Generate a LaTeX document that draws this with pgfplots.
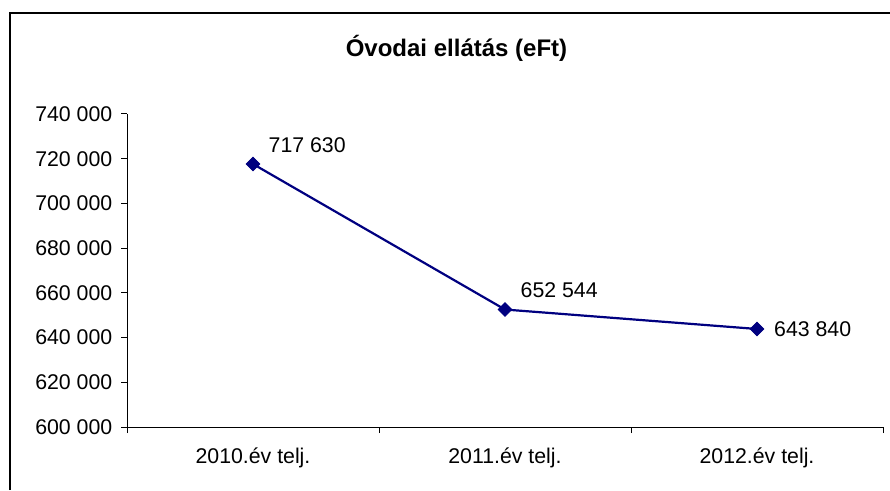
\documentclass[border=0pt]{standalone}
\usepackage{pgfplots}
\pgfplotsset{compat=1.18}
\usepackage{fontspec}
\setmainfont{Liberation Sans}
\definecolor{navyline}{RGB}{0,0,128}
\begin{document}
\begin{tikzpicture}[x=1pt,y=1pt]
\useasboundingbox (0,0) rectangle (890,490);
\draw[line width=1.2pt] (10,0) -- (10,477) -- (890,477);
\node[anchor=base,inner sep=0pt,font=\fontsize{24}{28}\selectfont\bfseries] at (456.5,433.3) {Óvodai ellátás (eFt)};
\begin{axis}[
  at={(127pt,63pt)}, anchor=south west,
  scale only axis, width=756pt, height=313pt,
  axis lines*=left,
  axis line style={line width=1pt},
  xmin=-0.5, xmax=2.5,
  ymin=600000, ymax=740000,
  xtick={0,1,2},
  xticklabels={2010.év telj.,2011.év telj.,2012.év telj.},
  minor xtick={-0.5,0.5,1.5,2.5},
  major x tick style={draw=none},
  ytick={600000,620000,640000,660000,680000,700000,720000,740000},
  tick align=outside,
  major tick length=6pt, minor tick length=6pt,
  tick style={black, line width=1pt},
  scaled y ticks=false,
  /pgf/number format/assume math mode=true,
  yticklabel={\pgfmathprintnumber[fixed,precision=0,1000 sep={\ }]{\tick}},
  tick label style={font=\fontsize{21.3}{25}\selectfont, inner sep=0pt},
  yticklabel style={anchor=east, xshift=-8.5pt},
  xticklabel style={anchor=north, yshift=-14.5pt},
  clip=false,
]
\addplot[navyline, line width=2.2pt, mark=square*, mark size=4.8pt,
  mark options={rotate=45, fill=navyline, draw=navyline, line width=0.8pt}]
  coordinates {(0,717630) (1,652544) (2,643840)};
\addplot[draw=none, mark=none, nodes near coords, point meta=explicit symbolic,
  every node near coord/.append style={anchor=west, inner sep=0pt, xshift=15.5pt, yshift=19pt, font=\fontsize{21.3}{25}\selectfont, black}]
  coordinates {(0,717630) [717 630] (1,652544) [652 544]};
\addplot[draw=none, mark=none, nodes near coords, point meta=explicit symbolic,
  every node near coord/.append style={anchor=west, inner sep=0pt, xshift=17pt, yshift=0pt, font=\fontsize{21.3}{25}\selectfont, black}]
  coordinates {(2,643840) [643 840]};
\end{axis}
\end{tikzpicture}
\end{document}
